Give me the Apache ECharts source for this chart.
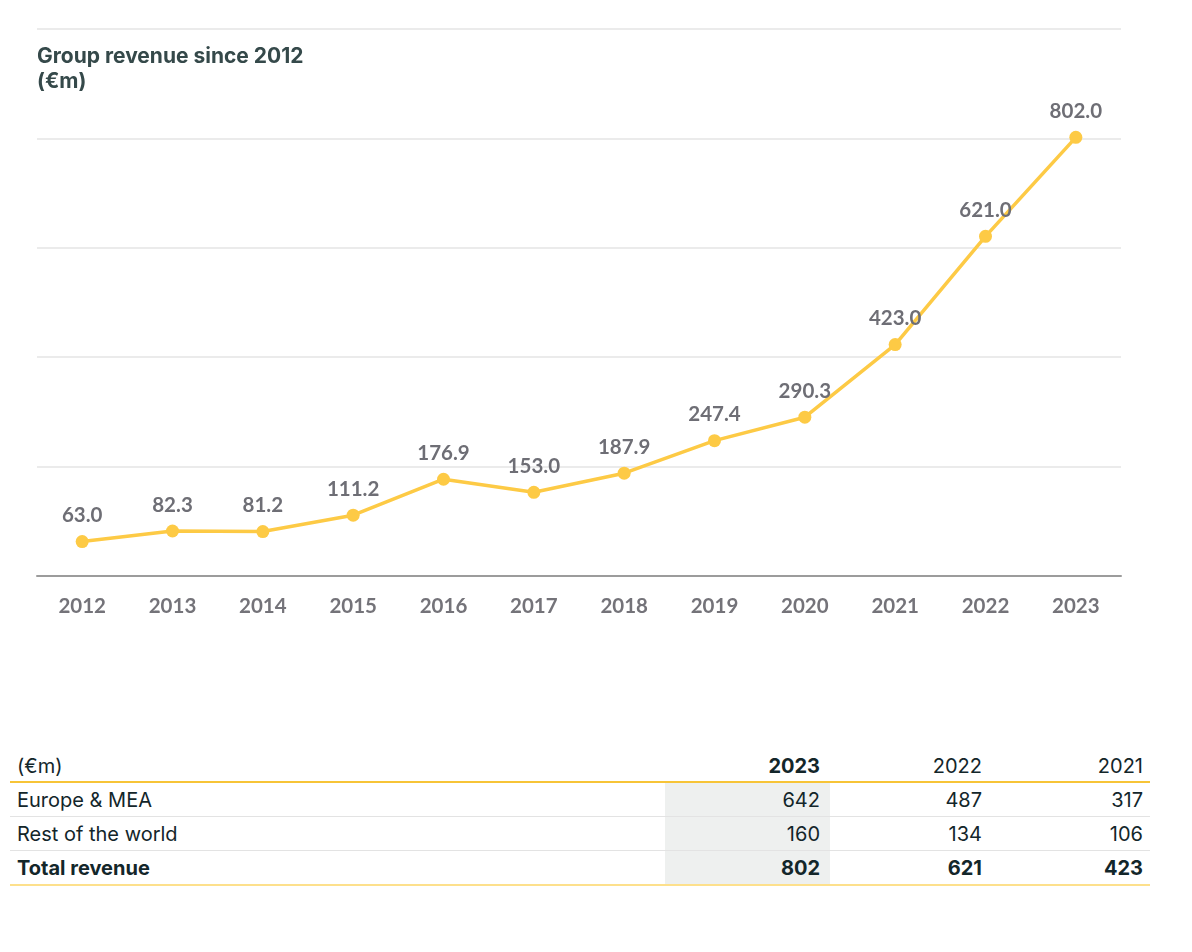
<!DOCTYPE html>
<html>
<head>
<meta charset="utf-8">
<script src="https://cdn.jsdelivr.net/npm/echarts@6/dist/echarts.min.js"></script>
<style>
  html, body { margin: 0; padding: 0; background: #fff; }
  #chart { position: absolute; left: 0; top: 0; width: 1192px; height: 660px; }
  #tbl { position: absolute; left: 10px; top: 751px; border-collapse: collapse;
         font-family: Inter, "Noto Sans", sans-serif; font-size: 20px; color: #13262a; }
  #tbl td { padding: 0; height: 33px; border-bottom: 1px solid #e3e3e3; white-space: nowrap; }
  #tbl tr.head td { height: 30px; border-bottom: 2px solid #f7c437; }
  #tbl tr.total td { font-weight: 700; border-bottom: 2px solid #fde08c; }
  #tbl td.lab { width: 648px; padding-left: 7px; text-align: left; }
  #tbl td.num { text-align: right; }
  #tbl td.c0 { width: 155px; padding-right: 10px; }
  #tbl td.c1 { width: 152px; padding-right: 10px; }
  #tbl td.c2 { width: 151px; padding-right: 7px; }
  #tbl tr.body td.c0 { background: #eef0ef; }
  #tbl tr.head td.c0 { font-weight: 700; }
</style>
</head>
<body>
<div id="chart"></div>
<table id="tbl"></table>
<script>
// ---- data ----
const years = ['2012','2013','2014','2015','2016','2017','2018','2019','2020','2021','2022','2023'];
const revenue = [63.0, 82.3, 81.2, 111.2, 176.9, 153.0, 187.9, 247.4, 290.3, 423.0, 621.0, 802.0];

const tableUnit = '(€m)';
const tableYears = ['2023', '2022', '2021'];
const rowLabels = ['Europe & MEA', 'Rest of the world', 'Total revenue'];
const europeMEA = [642, 487, 317];
const restOfWorld = [160, 134, 106];
const totalRevenue = [802, 621, 423];

// ---- chart ----
const chart = echarts.init(document.getElementById('chart'), null, { renderer: 'canvas' });
chart.setOption({
  animation: false,
  title: {
    text: 'Group revenue since 2012\n(€m)',
    left: 32, top: 39, padding: 5,
    textStyle: { fontFamily: 'Inter', fontWeight: 700, fontSize: 21, color: '#35494a', lineHeight: 25 }
  },
  grid: { left: 37, right: 71, top: 29, bottom: 84 },
  xAxis: {
    type: 'category',
    data: years,
    boundaryGap: true,
    axisLine: { lineStyle: { color: '#9c9c9c', width: 2 } },
    axisTick: { show: false },
    axisLabel: { fontFamily: 'Lato', fontWeight: 700, fontSize: 20.5, color: '#747379', margin: 20 }
  },
  yAxis: {
    type: 'value',
    min: 0, max: 1000, interval: 200,
    axisLabel: { show: false },
    axisLine: { show: false },
    axisTick: { show: false },
    splitLine: { lineStyle: { color: '#e4e4e4', width: 1.5 } }
  },
  series: [{
    type: 'line',
    data: revenue,
    symbol: 'circle',
    symbolSize: 13,
    lineStyle: { color: '#fdca45', width: 3.5 },
    itemStyle: { color: '#fdca45' },
    label: {
      show: true, position: 'top', distance: 9,
      formatter: p => p.value.toFixed(1),
      fontFamily: 'Lato', fontWeight: 700, fontSize: 20.5, color: '#6e6e75'
    }
  }]
});

// ---- table ----
const tbl = document.getElementById('tbl');
function addRow(cls, label, vals) {
  const tr = document.createElement('tr');
  tr.className = cls;
  const td = document.createElement('td');
  td.className = 'lab';
  td.textContent = label;
  tr.appendChild(td);
  vals.forEach((v, i) => {
    const c = document.createElement('td');
    c.className = 'num c' + i;
    c.textContent = String(v);
    tr.appendChild(c);
  });
  tbl.appendChild(tr);
}
addRow('head', tableUnit, tableYears);
addRow('body', rowLabels[0], europeMEA);
addRow('body', rowLabels[1], restOfWorld);
addRow('body total', rowLabels[2], totalRevenue);
</script>
</body>
</html>
